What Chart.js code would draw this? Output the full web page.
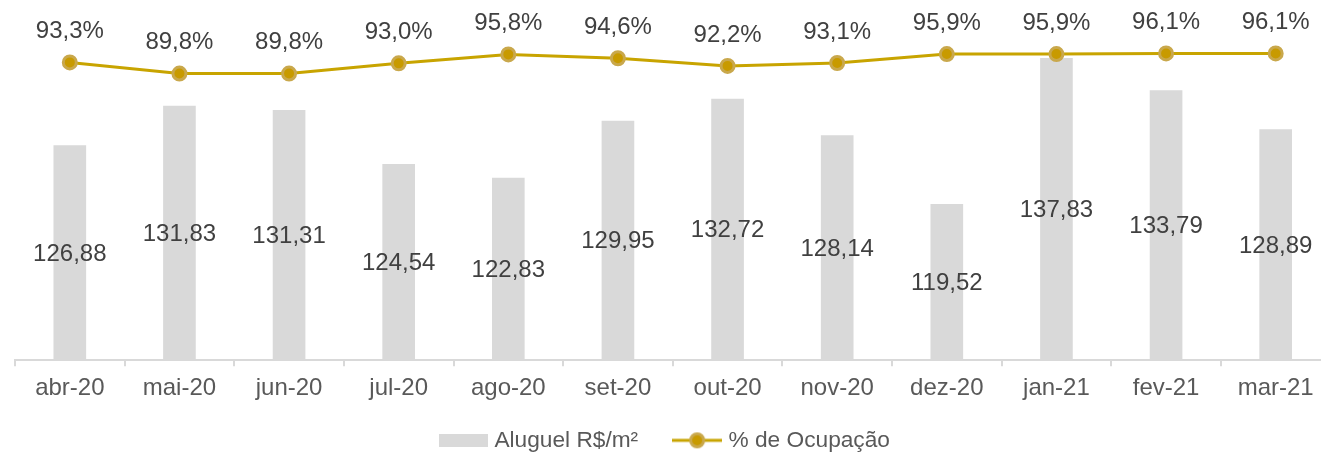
<!DOCTYPE html>
<html lang="pt-BR">
<head>
<meta charset="UTF-8">
<title>Aluguel R$/m² e % de Ocupação</title>
<script src="https://cdn.jsdelivr.net/npm/chart.js"></script>
<style>
    html, body { margin: 0; padding: 0; background: #fff; overflow: hidden; }
    .wrap { width: 1340px; height: 457px; position: relative; }
</style>
</head>
<body>
<div class="wrap"><canvas id="chart"></canvas></div>
<script>
// dados
var meses = ['abr-20', 'mai-20', 'jun-20', 'jul-20', 'ago-20', 'set-20', 'out-20', 'nov-20', 'dez-20', 'jan-21', 'fev-21', 'mar-21'];
var aluguel = [126.88, 131.83, 131.31, 124.54, 122.83, 129.95, 132.72, 128.14, 119.52, 137.83, 133.79, 128.89];
var ocupacao = [93.3, 89.8, 89.8, 93.0, 95.8, 94.6, 92.2, 93.1, 95.9, 95.9, 96.1, 96.1];

var FONT = '"Liberation Sans", Arial, sans-serif';
var CINZA = '#d9d9d9';
var OURO = '#c8a400';
var OURO_PONTO = '#c89a00';
var OURO_BORDA = '#c9a84c';
var PAD_LEGENDA = 39;

function fmt(v, casas) {
    return v.toFixed(casas).replace('.', ',');
}

// pequenos desenhos para a legenda
function iconeBarra() {
    var c = document.createElement('canvas');
    c.width = 49; c.height = 13;
    var g = c.getContext('2d');
    g.fillStyle = CINZA;
    g.fillRect(0, 0, 49, 13);
    return c;
}
function iconeLinha() {
    var c = document.createElement('canvas');
    c.width = 50; c.height = 18;
    var g = c.getContext('2d');
    g.strokeStyle = OURO; g.lineWidth = 3;
    g.beginPath(); g.moveTo(0, 9); g.lineTo(50, 9); g.stroke();
    g.beginPath(); g.arc(25, 9, 6.5, 0, Math.PI * 2);
    g.fillStyle = OURO_PONTO; g.fill();
    g.lineWidth = 3; g.strokeStyle = OURO_BORDA; g.stroke();
    return c;
}

// rótulos de valores
var rotulos = {
    id: 'rotulos',
    afterDatasetsDraw: function (chart) {
        var ctx = chart.ctx;
        var base = chart.scales.y.getPixelForValue(chart.scales.y.min);
        ctx.save();
        ctx.font = '24px ' + FONT;
        ctx.fillStyle = '#404040';
        ctx.textAlign = 'center';
        ctx.textBaseline = 'middle';
        chart.getDatasetMeta(0).data.forEach(function (el, i) {
            var topo = chart.scales.y.getPixelForValue(aluguel[i]);
            ctx.fillText(fmt(aluguel[i], 2), el.x, (topo + base) / 2 + 1);
        });
        chart.getDatasetMeta(1).data.forEach(function (el, i) {
            ctx.fillText(fmt(ocupacao[i], 1) + '%', el.x, el.y - 31);
        });
        ctx.restore();
    }
};

// altura fixa da legenda e posição centrada na janela visível
var posLegenda = {
    id: 'posLegenda',
    afterInit: function (chart) {
        var lg = chart.legend;
        var fitOrig = lg.fit;
        lg.fit = function () {
            fitOrig.call(this);
            this.height = 46;
        };
    },
    afterLayout: function (chart) {
        var lg = chart.legend;
        lg.left = 0;
        lg.right = 1333;
        lg.top = 441 - PAD_LEGENDA - 12;
        lg.bottom = 457;
    }
};

var ctx = document.getElementById('chart').getContext('2d');
var chart = new Chart(ctx, {
    type: 'bar',
    data: {
        labels: meses,
        datasets: [{
            type: 'bar',
            label: 'Aluguel R$/m²',
            data: aluguel,
            backgroundColor: CINZA,
            barThickness: 32,
            yAxisID: 'y',
            order: 2
        }, {
            type: 'line',
            label: '% de Ocupação',
            data: ocupacao,
            borderColor: OURO,
            borderWidth: 3,
            pointRadius: 6.5,
            pointBorderWidth: 3,
            pointBackgroundColor: OURO_PONTO,
            pointBorderColor: OURO_BORDA,
            yAxisID: 'y1',
            order: 1
        }]
    },
    options: {
        responsive: true,
        maintainAspectRatio: false,
        animation: false,
        layout: { padding: { top: 41, left: 15, right: 1, bottom: 0 } },
        scales: {
            x: {
                grid: {
                    offset: true,
                    drawOnChartArea: false,
                    color: CINZA,
                    lineWidth: 2,
                    tickLength: 6
                },
                border: { color: CINZA, width: 2 },
                ticks: {
                    color: '#595959',
                    font: { family: FONT, size: 24 },
                    padding: 8,
                    maxRotation: 0
                }
            },
            y: { display: false, min: 100, max: 140 },
            y1: { display: false, min: 0, max: 100 }
        },
        plugins: {
            tooltip: { enabled: false },
            legend: {
                position: 'bottom',
                labels: {
                    color: '#595959',
                    font: { family: FONT, size: 22.7 },
                    usePointStyle: true,
                    pointStyleWidth: 40,
                    padding: PAD_LEGENDA,
                    generateLabels: function (chart) {
                        return chart.data.datasets.map(function (ds, i) {
                            return {
                                text: ds.label,
                                pointStyle: i === 0 ? iconeBarra() : iconeLinha(),
                                fontColor: '#595959',
                                lineWidth: 0,
                                strokeStyle: 'transparent',
                                fillStyle: 'transparent',
                                datasetIndex: i
                            };
                        });
                    }
                }
            }
        }
    },
    plugins: [rotulos, posLegenda]
});
</script>
</body>
</html>
